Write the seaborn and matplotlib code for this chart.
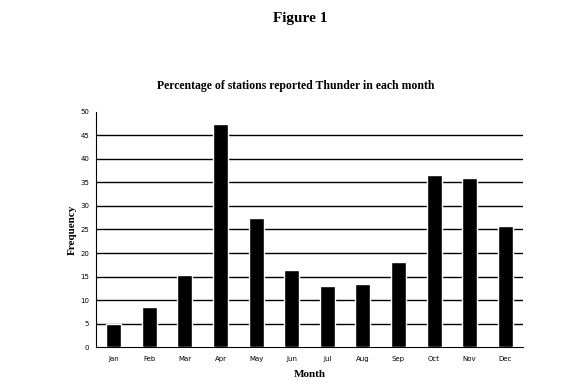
import matplotlib
matplotlib.use("Agg")
import matplotlib.pyplot as plt
import seaborn as sns
import pandas as pd
import numpy as np

months = ["Jan", "Feb", "Mar", "Apr", "May", "Jun", "Jul", "Aug", "Sep", "Oct", "Nov", "Dec"]
frequency = [4.9, 8.6, 15.4, 47.4, 27.5, 16.4, 13.0, 13.5, 18.1, 36.6, 35.9, 25.8]
yticks = [0, 5, 10, 15, 20, 25, 30, 35, 40, 45, 50]

df = pd.DataFrame({"Month": months, "Frequency": frequency})

sns.set_style("white")
plt.rcParams['font.family'] = ['Liberation Serif', 'DejaVu Serif']
plt.rcParams['text.color'] = 'black'
plt.rcParams['axes.labelcolor'] = 'black'
plt.rcParams['xtick.color'] = 'black'
plt.rcParams['ytick.color'] = 'black'

fig = plt.figure(figsize=(5.77, 3.85), dpi=100)
ax = fig.add_axes([0.1664, 0.098, 0.74, 0.612])

sns.barplot(data=df, x="Month", y="Frequency", color="black", width=0.42,
            saturation=1, ax=ax, zorder=3)

ax.set_ylim(0, 50)
ax.set_xlim(-0.5, 11.5)
ax.set_yticks(yticks)
ax.set_yticklabels([str(v) for v in yticks], fontsize=5, family='DejaVu Sans')
ax.tick_params(axis='y', direction='out', length=3, width=0.8, color='black', pad=2)
ax.tick_params(axis='x', which='major', length=0, labelsize=5, pad=6)
for lbl in ax.get_xticklabels():
    lbl.set_family('DejaVu Sans')
ax.set_xticks(np.arange(-0.5, 12, 1), minor=True)
ax.tick_params(axis='x', which='minor', direction='out', length=3, width=0.8, color='black')

for y in yticks[1:-1]:
    ax.axhline(y, color='black', lw=1.0, zorder=1)

for s in ['top', 'right']:
    ax.spines[s].set_visible(False)
for s in ['left', 'bottom']:
    ax.spines[s].set_color('black')
    ax.spines[s].set_linewidth(0.8)

ax.set_xlabel("Month", fontsize=8, fontweight='bold', labelpad=6)
ax.set_ylabel("Frequency", fontsize=8, fontweight='bold', labelpad=2)

fig.text(0.52, 0.953, "Figure 1", ha='center', va='center', fontsize=11, fontweight='bold')
fig.text(0.512, 0.777, "Percentage of stations reported Thunder in each month",
         ha='center', va='center', fontsize=8.5, fontweight='bold')

fig.savefig("out.png", dpi=100, facecolor='white')
